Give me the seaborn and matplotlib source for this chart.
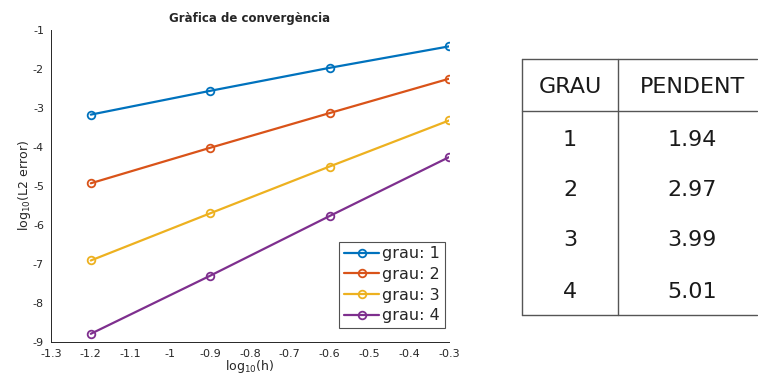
import matplotlib
matplotlib.use("Agg")
import matplotlib.pyplot as plt
import seaborn as sns
import pandas as pd

sns.set_theme(style="white")
plt.rcParams['font.family'] = ['DejaVu Sans']

log_h = [-1.2, -0.9, -0.6, -0.3]
err_g1 = [-3.17, -2.56, -1.97, -1.42]
err_g2 = [-4.93, -4.02, -3.13, -2.25]
err_g3 = [-6.91, -5.70, -4.50, -3.32]
err_g4 = [-8.79, -7.30, -5.77, -4.26]
series_labels = ["grau: 1", "grau: 2", "grau: 3", "grau: 4"]
colors = ["#0072BD", "#D95319", "#EDB120", "#7E2F8E"]

table_header = ["GRAU", "PENDENT"]
table_grau = ["1", "2", "3", "4"]
table_pendent = ["1.94", "2.97", "3.99", "5.01"]

rows = []
for lab, ys in zip(series_labels, [err_g1, err_g2, err_g3, err_g4]):
    for x, y in zip(log_h, ys):
        rows.append({"log_h": x, "err": y, "serie": lab})
df = pd.DataFrame(rows)

W, H = 758, 383
fig = plt.figure(figsize=(W / 100, H / 100), dpi=100)
ax = fig.add_axes([51 / W, 1 - 342 / H, (449 - 51) / W, (342 - 30) / H])

sns.lineplot(data=df, x="log_h", y="err", hue="serie", palette=colors,
             marker="o", markersize=5.5, markerfacecolor="none",
             markeredgewidth=1.3, linewidth=1.6, ax=ax, legend=False)
lines = ax.lines[:4]
for ln, c in zip(lines, colors):
    ln.set_markeredgecolor(c)
    ln.set_markerfacecolor("none")

ax.set_xlim(-1.3, -0.3)
ax.set_ylim(-9, -1)
ax.set_xticks([-1.3, -1.2, -1.1, -1.0, -0.9, -0.8, -0.7, -0.6, -0.5, -0.4, -0.3])
ax.set_xticklabels(["-1.3", "-1.2", "-1.1", "-1", "-0.9", "-0.8", "-0.7", "-0.6", "-0.5", "-0.4", "-0.3"])
ax.set_yticks(range(-9, 0))
ax.set_yticklabels([str(v) for v in range(-9, 0)])
ax.tick_params(direction="in", length=3, width=0.6, labelsize=8, colors="#262626")
ax.tick_params(axis="x", pad=5)
ax.tick_params(axis="y", pad=5)
for s in ["top", "right"]:
    ax.spines[s].set_visible(False)
for s in ["left", "bottom"]:
    ax.spines[s].set_color("#262626")
    ax.spines[s].set_linewidth(0.7)
ax.set_xlabel(r"log$_{10}$(h)", fontsize=9, labelpad=-1, color="#262626")
ax.set_ylabel(r"log$_{10}$(L2 error)", fontsize=9, labelpad=0, color="#262626")
ax.set_title("Gràfica de convergència", fontsize=8.5, fontweight="bold", pad=6)

leg = ax.legend(lines, series_labels, loc="lower right", bbox_to_anchor=(0.99, 0.045),
                fontsize=11.5, frameon=True, fancybox=False, edgecolor="#262626",
                handlelength=2.2, handletextpad=0.2, borderpad=0.3,
                labelspacing=0.35, borderaxespad=0)
leg.get_frame().set_linewidth(0.8)

# table
tax = fig.add_axes([0, 0, 1, 1])
tax.set_xlim(0, W)
tax.set_ylim(H, 0)
tax.axis("off")
lc = "#555555"
left, right, sep = 522, 757, 618
top, hdr, bot = 59, 111, 315
tax.plot([left, right], [top, top], color=lc, lw=1.0)
tax.plot([left, right], [hdr, hdr], color=lc, lw=1.0)
tax.plot([left, right], [bot, bot], color=lc, lw=1.0)
tax.plot([left, left], [top, bot], color=lc, lw=1.0)
tax.plot([sep, sep], [top, bot], color=lc, lw=1.0)
tc = "#1a1a1a"
fs = 16
tax.text((left + sep) / 2, 87, table_header[0], ha="center", va="center", fontsize=fs, color=tc)
tax.text(692, 87, table_header[1], ha="center", va="center", fontsize=fs, color=tc)
row_y = [140, 190, 240, 292]
for y, g, p in zip(row_y, table_grau, table_pendent):
    tax.text((left + sep) / 2, y, g, ha="center", va="center", fontsize=fs, color=tc)
    tax.text(692, y, p, ha="center", va="center", fontsize=fs, color=tc)

fig.savefig("out.png", dpi=100)
